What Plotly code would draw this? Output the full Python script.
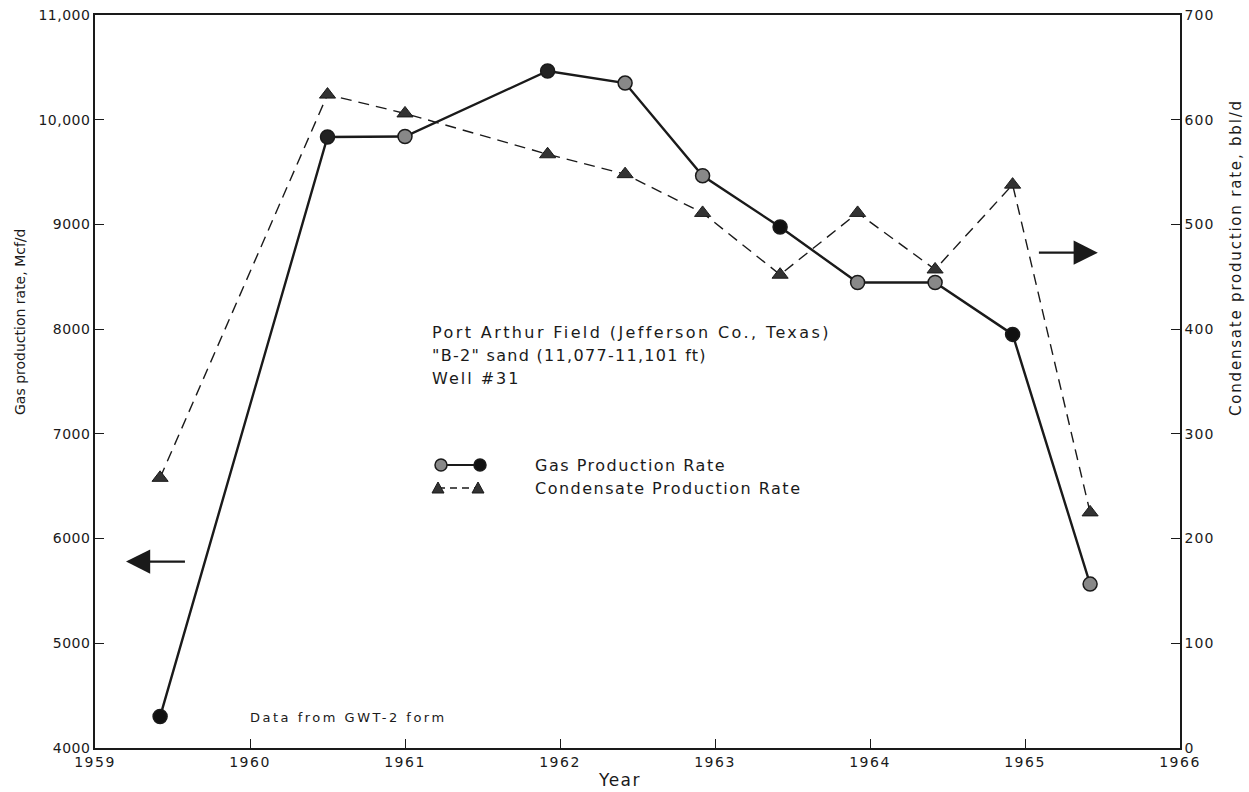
import plotly.graph_objects as go

# ---- data ----
gas_years = [1959.42, 1960.50, 1961.00, 1961.92, 1962.42, 1962.92, 1963.42, 1963.92, 1964.42, 1964.92, 1965.42]
gas_rate = [4300, 9835, 9840, 10465, 10350, 9465, 8975, 8445, 8445, 7950, 5565]

cond_years = [1959.42, 1960.50, 1961.00, 1961.92, 1962.42, 1962.92, 1963.42, 1963.92, 1964.42, 1964.92, 1965.42]
cond_rate = [258, 624, 606, 567, 548, 511, 452, 511, 457, 538, 225]

x_ticks = [1959, 1960, 1961, 1962, 1963, 1964, 1965, 1966]
x_tick_text = ["1959", "1960", "1961", "1962", "1963", "1964", "1965", "1966"]
y_left_ticks = [4000, 5000, 6000, 7000, 8000, 9000, 10000, 11000]
y_left_text = ["4000", "5000", "6000", "7000", "8000", "9000", "10,000", "11,000"]
y_right_ticks = [0, 100, 200, 300, 400, 500, 600, 700]
y_right_text = ["0", "100", "200", "300", "400", "500", "600", "700"]

# ---- styling ----
FONT = "DejaVu Sans"
INK = "#1a1a1a"
gas_marker_colors = ["#111", "#222", "#888", "#222", "#888", "#888", "#111", "#888", "#888", "#111", "#888"]


def spaced(s, px):
    return f'<span style="letter-spacing:{px}px">{s}</span>'


fig = go.Figure()

fig.add_trace(go.Scatter(
    x=gas_years, y=gas_rate, mode="lines+markers", name="Gas Production Rate",
    line=dict(color=INK, width=2.4),
    marker=dict(symbol="circle", size=14, color=gas_marker_colors, line=dict(color=INK, width=1.5)),
    yaxis="y", showlegend=False,
))
fig.add_trace(go.Scatter(
    x=cond_years, y=cond_rate, mode="lines+markers", name="Condensate Production Rate",
    line=dict(color=INK, width=1.4, dash="11px,7px"),
    marker=dict(symbol="triangle-up", size=14, color="#333", line=dict(color=INK, width=1)),
    yaxis="y2", showlegend=False,
))

axis_common = dict(
    showline=True, linecolor=INK, linewidth=1.6, ticks="inside", ticklen=9,
    tickcolor=INK, tickwidth=1.4, showgrid=False, zeroline=False, automargin=False,
    ticklabeloverflow="allow",
)

fig.update_layout(
    width=1249, height=792,
    margin=dict(l=95, r=69, t=15, b=44),
    paper_bgcolor="white", plot_bgcolor="white",
    xaxis=dict(range=[1959, 1966], tickvals=x_ticks, ticktext=[spaced(t, 1.5) for t in x_tick_text],
               mirror=True, tickfont=dict(family=FONT, size=14, color=INK), **axis_common),
    yaxis=dict(range=[4000, 11000], tickvals=y_left_ticks, ticktext=[spaced(t, 0.5) for t in y_left_text],
               tickfont=dict(family=FONT, size=14, color=INK), **axis_common),
    yaxis2=dict(range=[0, 700], tickvals=y_right_ticks, ticktext=[spaced(t, 1) for t in y_right_text],
                overlaying="y", side="right", tickfont=dict(family=FONT, size=14, color=INK), **axis_common),
)


def px_x(p):
    return (p - 95) / 1085.0


def px_y(p):
    return (748 - p) / 733.0


# axis titles
fig.add_annotation(xref="paper", yref="paper", x=px_x(596), y=px_y(780), xanchor="left", yanchor="middle",
                   text=spaced("Year", 1.5), showarrow=False, font=dict(family=FONT, size=17, color=INK))
fig.add_annotation(xref="paper", yref="paper", x=px_x(20), y=px_y(322), xanchor="center", yanchor="middle",
                   textangle=-90, text="Gas production rate, Mcf/d", showarrow=False,
                   font=dict(family=FONT, size=14, color=INK))
fig.add_annotation(xref="paper", yref="paper", x=px_x(1236), y=px_y(258), xanchor="center", yanchor="middle",
                   textangle=-90, text=spaced("Condensate production rate, bbl/d", 1.8), showarrow=False,
                   font=dict(family=FONT, size=15, color=INK))

# notes
note_font = dict(family=FONT, size=16, color=INK)
for line_text, py, sp in [("Port Arthur Field (Jefferson Co., Texas)", 332, 2.4),
                          ('"B-2" sand (11,077-11,101 ft)', 355, 1.3),
                          ("Well #31", 378, 2.0)]:
    fig.add_annotation(xref="paper", yref="paper", x=px_x(430), y=px_y(py), xanchor="left", yanchor="middle",
                       text=spaced(line_text, sp), showarrow=False, font=note_font)
fig.add_annotation(xref="paper", yref="paper", x=px_x(248), y=px_y(717), xanchor="left", yanchor="middle",
                   text=spaced("Data from GWT-2 form", 2.5), showarrow=False,
                   font=dict(family=FONT, size=13, color=INK))

# direction arrows
fig.add_annotation(xref="x", yref="y", axref="x", ayref="y", x=1959.20, y=5780, ax=1959.59, ay=5780,
                   text="", showarrow=True, arrowhead=2, arrowsize=2.2, arrowwidth=2.2, arrowcolor=INK)
fig.add_annotation(xref="x", yref="y", axref="x", ayref="y", x=1965.47, y=8730, ax=1965.08, ay=8730,
                   text="", showarrow=True, arrowhead=2, arrowsize=2.2, arrowwidth=2.2, arrowcolor=INK)

# hand-drawn style legend
leg_y1, leg_y2 = 465, 488
fig.add_shape(type="line", xref="paper", yref="paper", x0=px_x(441), x1=px_x(480), y0=px_y(leg_y1), y1=px_y(leg_y1),
              line=dict(color=INK, width=2.2))
for cx, col in [(441, "#888"), (480, "#111")]:
    fig.add_shape(type="circle", xref="paper", yref="paper", xsizemode="pixel", ysizemode="pixel",
                  xanchor=px_x(cx), yanchor=px_y(leg_y1), x0=-6, x1=6, y0=-6, y1=6,
                  fillcolor=col, line=dict(color=INK, width=1.5))
fig.add_shape(type="line", xref="paper", yref="paper", x0=px_x(438), x1=px_x(478), y0=px_y(leg_y2), y1=px_y(leg_y2),
              line=dict(color=INK, width=1.4, dash="7px,5px"))
for cx in [438, 478]:
    fig.add_shape(type="path", xref="paper", yref="paper", xsizemode="pixel", ysizemode="pixel",
                  xanchor=px_x(cx), yanchor=px_y(leg_y2), path="M -6,-5 L 6,-5 L 0,6 Z",
                  fillcolor="#333", line=dict(color=INK, width=1))
fig.add_annotation(xref="paper", yref="paper", x=px_x(533), y=px_y(leg_y1), xanchor="left", yanchor="middle",
                   text=spaced("Gas Production Rate", 1.5), showarrow=False, font=note_font)
fig.add_annotation(xref="paper", yref="paper", x=px_x(533), y=px_y(leg_y2), xanchor="left", yanchor="middle",
                   text=spaced("Condensate Production Rate", 1.5), showarrow=False, font=note_font)

# remove the browser's default 8px page margin so the figure fills the window exactly
fig.write_html("out.html", config={"displayModeBar": False},
               post_script="document.body.style.margin='0';document.body.style.overflow='hidden';")
